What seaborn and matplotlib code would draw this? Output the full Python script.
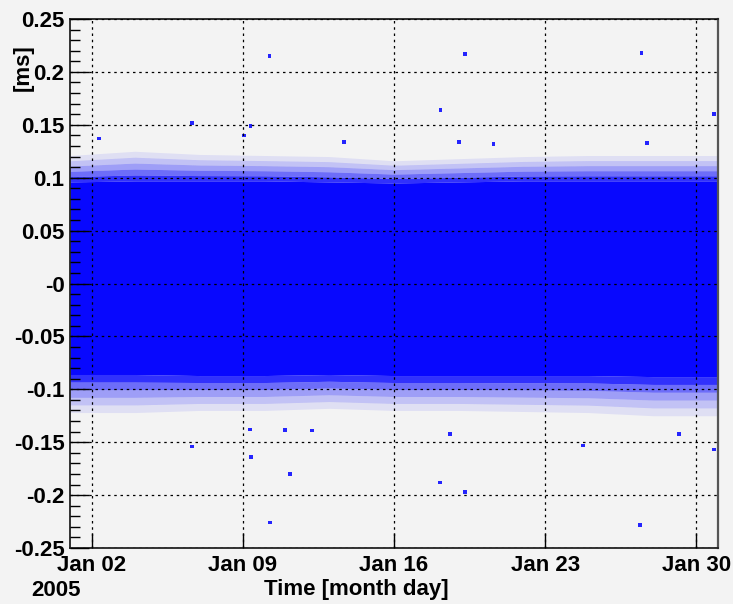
import numpy as np
import pandas as pd
import matplotlib
matplotlib.use("Agg")
import matplotlib.pyplot as plt
import matplotlib.dates as mdates
from matplotlib.ticker import FixedLocator, FixedFormatter, MultipleLocator
import seaborn as sns

# ---------------- data ----------------
# envelope of the dense point cloud, sampled along the month (day of Jan 2005)
env_day = [1, 4, 7, 10, 13, 16, 19, 22, 25, 28, 31]
top_dense = [0.096, 0.097, 0.097, 0.097, 0.096, 0.095, 0.096, 0.097, 0.097, 0.097, 0.097]
top_outer = [0.121, 0.125, 0.122, 0.121, 0.120, 0.116, 0.118, 0.120, 0.121, 0.121, 0.121]
bot_dense = [-0.086, -0.086, -0.087, -0.087, -0.086, -0.087, -0.087, -0.087, -0.087, -0.088, -0.088]
bot_outer = [-0.122, -0.122, -0.120, -0.120, -0.118, -0.120, -0.120, -0.121, -0.122, -0.125, -0.125]

# isolated points outside the cloud (day of month, value in ms)
out_day = [10.23, 6.66, 9.35, 9.07, 2.34, 13.7, 19.3, 27.46, 18.15, 30.8, 19.0,
           27.7, 20.6, 6.64, 9.38, 11.2, 10.27, 10.95, 12.2, 9.33, 18.14, 19.3,
           27.4, 24.75, 30.8, 18.6, 29.2]
out_val = [0.215, 0.152, 0.149, 0.140, 0.137, 0.134, 0.217, 0.2176, 0.164, 0.160, 0.1335,
           0.1325, 0.132, -0.154, -0.164, -0.180, -0.226, -0.1385, -0.139, -0.138, -0.188, -0.197,
           -0.228, -0.153, -0.157, -0.142, -0.142]

ytick_vals = [0.25, 0.2, 0.15, 0.1, 0.05, 0.0, -0.05, -0.1, -0.15, -0.2, -0.25]
ytick_labels = ["0.25", "0.2", "0.15", "0.1", "0.05", "-0", "-0.05", "-0.1", "-0.15", "-0.2", "-0.25"]
xtick_days = [2, 9, 16, 23, 30]

# ---------------- styling ----------------
sns.set_theme(style="ticks")
bg = "#f3f3f3"
plt.rcParams["font.family"] = ["Liberation Sans", "DejaVu Sans"]
plt.rcParams["font.weight"] = "bold"
plt.rcParams["text.color"] = "black"

base = pd.Timestamp("2005-01-01")
def to_dt(days):
    return [base + pd.Timedelta(days=d - 1) for d in days]

fig = plt.figure(figsize=(7.33, 6.04), dpi=100, facecolor=bg)
ax = fig.add_axes([70 / 733, 1 - 548 / 604, 648 / 733, 529 / 604])
ax.set_facecolor(bg)

ex = to_dt(env_day)
td = np.array(top_dense); to = np.array(top_outer)
bd = np.array(bot_dense); bo = np.array(bot_outer)
blue = (0.0, 0.0, 1.0)

ax.fill_between(ex, bd, td, color=blue, alpha=0.97, lw=0, zorder=1, antialiased=False)
fr = [0.0, 0.2, 0.4, 0.6, 0.8, 1.0]
alphas = [0.8, 0.55, 0.35, 0.2, 0.08]
for k in range(5):
    ax.fill_between(ex, td + (to - td) * fr[k], td + (to - td) * fr[k + 1],
                    color=blue, alpha=alphas[k], lw=0, zorder=1, antialiased=False)
    ax.fill_between(ex, bd + (bo - bd) * fr[k + 1], bd + (bo - bd) * fr[k],
                    color=blue, alpha=alphas[k], lw=0, zorder=1, antialiased=False)

df = pd.DataFrame({"t": to_dt(out_day), "v": out_val})
sns.scatterplot(data=df, x="t", y="v", ax=ax, marker="s", s=7, color=blue,
                edgecolor="none", alpha=0.85, zorder=2)

ax.set_xlim(base, base + pd.Timedelta(days=30))
ax.set_ylim(-0.25, 0.25)

ax.xaxis.set_major_locator(FixedLocator(mdates.date2num(to_dt(xtick_days))))
ax.xaxis.set_major_formatter(mdates.DateFormatter("%b %d"))
ax.yaxis.set_major_locator(FixedLocator(ytick_vals))
ax.yaxis.set_major_formatter(FixedFormatter(ytick_labels))
ax.yaxis.set_minor_locator(MultipleLocator(0.01))

ax.set_axisbelow(False)
ax.grid(True, which="major", color="black", linestyle=(0, (2, 3)), linewidth=0.9)

ax.tick_params(axis="both", which="both", direction="in", colors="black",
               labelsize=16, top=False, right=False)
ax.tick_params(axis="y", which="major", length=14, width=1.0, pad=4)
ax.tick_params(axis="y", which="minor", length=7, width=1.0)
ax.tick_params(axis="x", which="major", length=11, width=1.0, pad=5)
for lab in ax.get_xticklabels() + ax.get_yticklabels():
    lab.set_fontweight("bold")
    lab.set_color("black")

for side in ["left", "bottom", "top"]:
    ax.spines[side].set_color("#222222")
    ax.spines[side].set_linewidth(1.3)
ax.spines["right"].set_color("#555555")
ax.spines["right"].set_linewidth(1.6)

ax.set_xlabel(""); ax.set_ylabel("")
fig.text(23 / 733, 1 - 68 / 604, "[ms]", rotation=90, ha="center", va="center",
         fontsize=16, fontweight="bold", color="black")
fig.text(356 / 733, 1 - 590 / 604, "Time [month day]", ha="center", va="center",
         fontsize=16, fontweight="bold", color="black")
fig.text(56 / 733, 1 - 590 / 604, "2005", ha="center", va="center",
         fontsize=16, fontweight="bold", color="black")

fig.savefig("out.png", dpi=100, facecolor=bg)
